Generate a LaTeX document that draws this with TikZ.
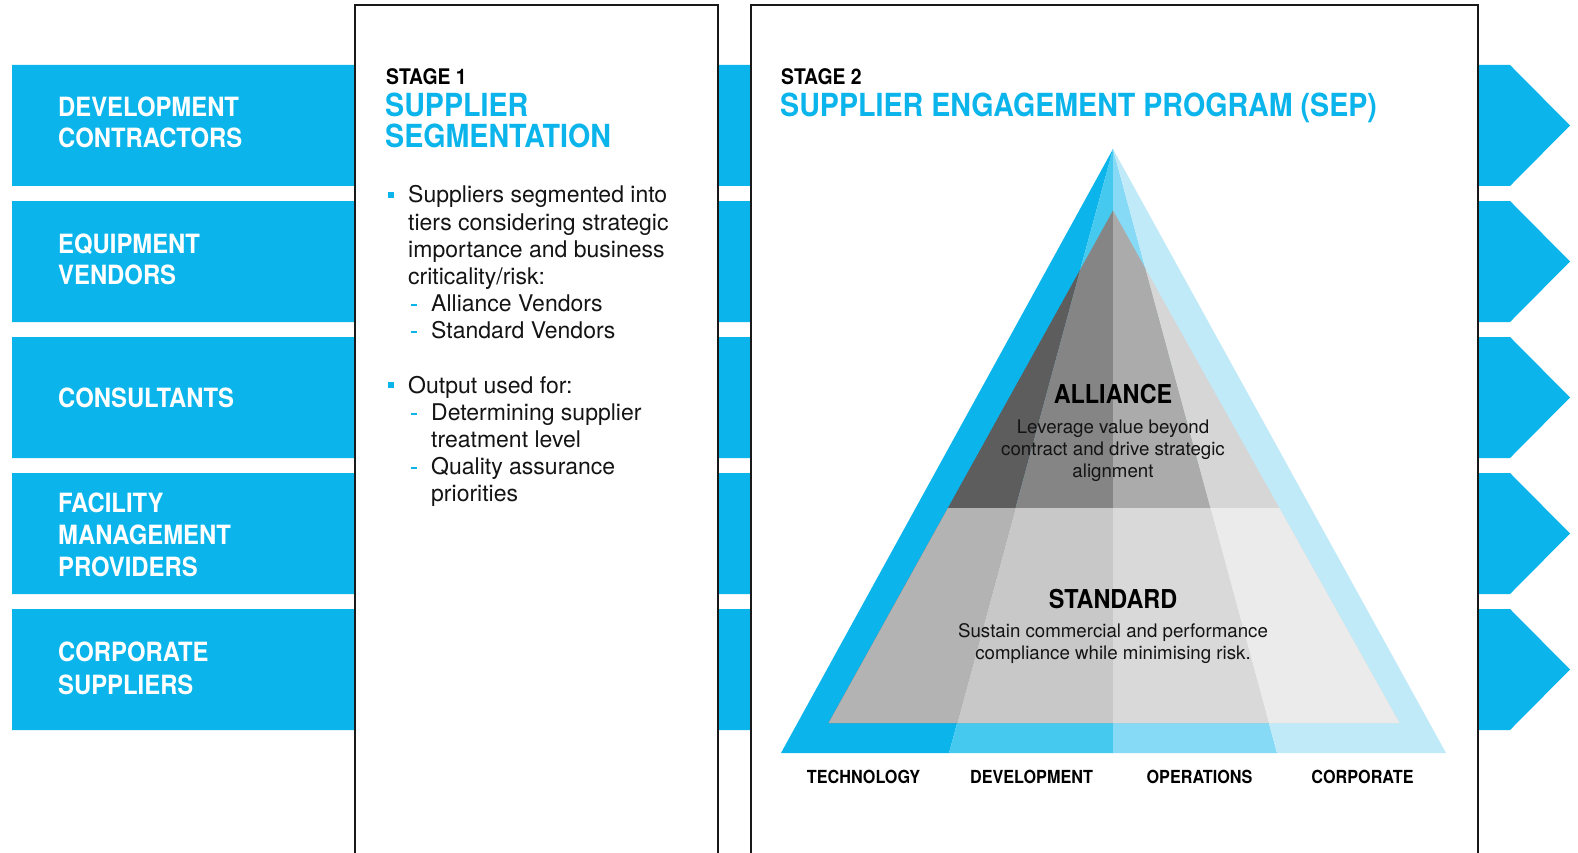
\documentclass[tikz,border=0pt]{standalone}
\usepackage{fontspec}
\setmainfont{TeX Gyre Heros}
\newfontfamily\hfont[FakeStretch=0.9]{TeX Gyre Heros}
\definecolor{sblue}{HTML}{0BB5EB}
\definecolor{oa}{HTML}{0BB5EB}
\definecolor{ob}{HTML}{46C9EF}
\definecolor{oc}{HTML}{86DAF5}
\definecolor{od}{HTML}{C1EAF8}
\definecolor{aa}{HTML}{5D5D5D}
\definecolor{ab}{HTML}{858585}
\definecolor{ac}{HTML}{ABABAB}
\definecolor{ad}{HTML}{D6D6D6}
\definecolor{sa}{HTML}{B3B3B3}
\definecolor{sb}{HTML}{C8C8C8}
\definecolor{sc}{HTML}{D9D9D9}
\definecolor{sd}{HTML}{EBEBEB}
\definecolor{ink}{HTML}{141414}
\begin{document}
\begin{tikzpicture}[x=1pt,y=-1pt,
  bandlbl/.style={anchor=base west, inner sep=0, text=white, font=\hfont\bfseries\fontsize{26.5}{31}\selectfont},
  stagelbl/.style={anchor=base west, inner sep=0, text=black, font=\hfont\bfseries\fontsize{21.5}{26}\selectfont},
  titlelbl/.style={anchor=base west, inner sep=0, text=sblue, font=\hfont\bfseries\fontsize{31.8}{31}\selectfont},
  bodylbl/.style={anchor=base west, inner sep=0, text=ink, font=\fontsize{23}{27}\selectfont},
  tierlbl/.style={anchor=base, inner sep=0, text=black, font=\hfont\bfseries\fontsize{26}{30}\selectfont},
  tiertxt/.style={anchor=base, inner sep=0, text=ink, font=\fontsize{18.7}{22}\selectfont},
  baselbl/.style={anchor=base, inner sep=0, text=black, font=\hfont\bfseries\fontsize{18}{22}\selectfont},
  boxline/.style={draw=black!90, line width=2pt},
  bullet/.style={fill=sblue},
]
\useasboundingbox[fill=white] (0,0) rectangle (1578,853);

% blue bands with arrow tips
\foreach \t in {65,201,337,473,609} {
  \fill[sblue] (12,\t) -- (1510,\t) -- (1570,\t+60.5) -- (1510,\t+121) -- (12,\t+121) -- cycle;
}

% band labels
\node[bandlbl] (b1a) at (58,117) {DEVELOPMENT};
\node[bandlbl] (b1b) at (58,148) {CONTRACTORS};
\node[bandlbl] (b2a) at (58,253) {EQUIPMENT};
\node[bandlbl] (b2b) at (58,284) {VENDORS};
\node[bandlbl] (b3a) at (58,407) {CONSULTANTS};
\node[bandlbl] (b4a) at (58,512) {FACILITY};
\node[bandlbl] (b4b) at (58,544) {MANAGEMENT};
\node[bandlbl] (b4c) at (58,576) {PROVIDERS};
\node[bandlbl] (b5a) at (58,661) {CORPORATE};
\node[bandlbl] (b5b) at (58,694) {SUPPLIERS};

% stage boxes
\fill[white] (355,5) rectangle (717.5,853);
\draw[boxline] (355,860) -- (355,5) -- (717.5,5) -- (717.5,860);
\fill[white] (750.5,5) rectangle (1478,853);
\draw[boxline] (750.5,860) -- (750.5,5) -- (1478,5) -- (1478,860);

% stage 1 text
\node[stagelbl] (s1) at (386,85) {STAGE 1};
\node[titlelbl] (s1t1) at (385,117) {SUPPLIER};
\node[titlelbl] (s1t2) at (385,148) {SEGMENTATION};

\fill[bullet] (388,192) rectangle (394,198);
\node[bodylbl] (l1) at (408,203) {Suppliers segmented into};
\node[bodylbl] (l2) at (408,230) {tiers considering strategic};
\node[bodylbl] (l3) at (408,257) {importance and business};
\node[bodylbl] (l4) at (408,284) {criticality/risk:};
\fill[bullet] (410.5,303.5) rectangle (416.5,305.5);
\node[bodylbl] (l5) at (431,311) {Alliance Vendors};
\fill[bullet] (410.5,330.5) rectangle (416.5,332.5);
\node[bodylbl] (l6) at (431,338) {Standard Vendors};

\fill[bullet] (388,382) rectangle (394,388);
\node[bodylbl] (l7) at (408,393) {Output used for:};
\fill[bullet] (410.5,412.5) rectangle (416.5,414.5);
\node[bodylbl] (l8) at (431,420) {Determining supplier};
\node[bodylbl] (l9) at (431,447) {treatment level};
\fill[bullet] (410.5,466.5) rectangle (416.5,468.5);
\node[bodylbl] (l10) at (431,474) {Quality assurance};
\node[bodylbl] (l11) at (431,501) {priorities};

% stage 2 text
\node[stagelbl] (s2) at (781,85) {STAGE 2};
\node[titlelbl] (s2t) at (780,117) {SUPPLIER ENGAGEMENT PROGRAM (SEP)};

% pyramid
\coordinate (A) at (1113,149);
\coordinate (B0) at (781,753);
\coordinate (B1) at (949,753);
\coordinate (B2) at (1113,753);
\coordinate (B3) at (1277,753);
\coordinate (B4) at (1446,753);
\coordinate (IA) at (1113,210.5);
\coordinate (IL) at (828.5,723);
\coordinate (IR) at (1399.5,723);

\fill[oa] (A) -- (B0) -- (B1) -- cycle;
\fill[ob] (A) -- (B1) -- (B2) -- cycle;
\fill[oc] (A) -- (B2) -- (B3) -- cycle;
\fill[od] (A) -- (B3) -- (B4) -- cycle;
\begin{scope}
  \clip (IA) -- (IL) -- (IR) -- cycle;
  \fill[aa] (A) -- (B0) -- (B1) -- cycle;
  \fill[ab] (A) -- (B1) -- (B2) -- cycle;
  \fill[ac] (A) -- (B2) -- (B3) -- cycle;
  \fill[ad] (A) -- (B3) -- (B4) -- cycle;
  \begin{scope}
    \clip (700,508.5) rectangle (1500,760);
    \fill[sa] (A) -- (B0) -- (B1) -- cycle;
    \fill[sb] (A) -- (B1) -- (B2) -- cycle;
    \fill[sc] (A) -- (B2) -- (B3) -- cycle;
    \fill[sd] (A) -- (B3) -- (B4) -- cycle;
  \end{scope}
\end{scope}

\node[tierlbl] (al) at (1113,403) {ALLIANCE};
\node[tiertxt] (al1) at (1113,433) {Leverage value beyond};
\node[tiertxt] (al2) at (1113,455) {contract and drive strategic};
\node[tiertxt] (al3) at (1113,477) {alignment};
\node[tierlbl] (st) at (1113,608) {STANDARD};
\node[tiertxt] (st1) at (1113,637) {Sustain commercial and performance};
\node[tiertxt] (st2) at (1113,659) {compliance while minimising risk.};

\node[baselbl] (c1) at (863.5,783.5) {TECHNOLOGY};
\node[baselbl] (c2) at (1031.5,783.5) {DEVELOPMENT};
\node[baselbl] (c3) at (1199.5,783.5) {OPERATIONS};
\node[baselbl] (c4) at (1362.5,783.5) {CORPORATE};
\end{tikzpicture}
\end{document}
